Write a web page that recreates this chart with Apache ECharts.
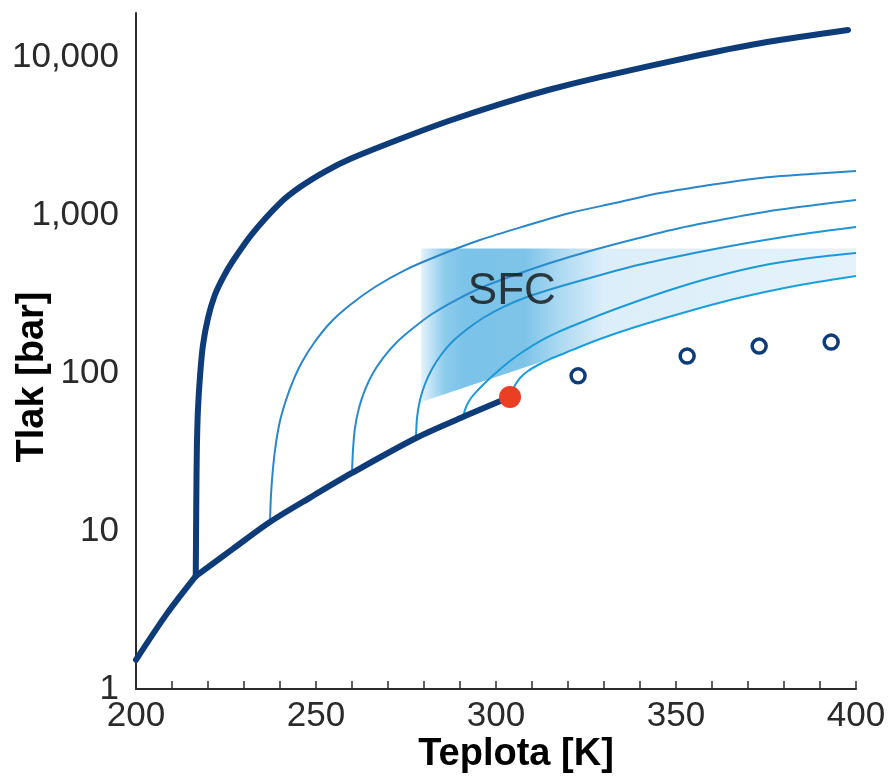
<!DOCTYPE html>
<html>
<head>
<meta charset="utf-8">
<script src="https://cdn.jsdelivr.net/npm/echarts@6/dist/echarts.min.js"></script>
<style>
html,body{margin:0;padding:0;background:#fff;}
#chart{width:890px;height:780px;}
</style>
</head>
<body>
<div id="chart"></div>
<script>
// ---- Data (temperature in K, pressure in bar) ----
const xTicks = [200, 250, 300, 350, 400];
const yTickLabels = ['1', '10', '100', '1,000', '10,000'];

const sublimation = [[200, 1.53], [208.6, 3.0], [216.6, 5.18]];
const vaporCurve = [[216.6, 5.18], [226.9, 7.7], [237.2, 11.4], [248.6, 16.4], [260.0, 23.3], [277.8, 38.8], [290.8, 52.7], [303.9, 70.5]];
const meltCurve = [[216.6, 5.18], [216.75, 15.7], [216.9, 32.6], [217.2, 58], [217.8, 97], [218.6, 150], [220.0, 223],
  [221.9, 312], [224.4, 411], [226.9, 512], [232.2, 758], [240.0, 1191], [245.56, 1504], [252.5, 1885], [259.44, 2262],
  [273.33, 3027], [287.22, 3964], [301.11, 5040], [315.0, 6229], [328.89, 7470], [356.67, 10295], [375.28, 12440],
  [397.78, 14823]];

const iso1 = [[237.22, 11.4], [237.5, 16.9], [238.06, 25.0], [238.89, 36.1], [240.0, 49.7], [241.67, 67.5], [243.61, 89.0],
  [246.11, 117.4], [249.44, 154.9], [253.89, 207.3], [259.44, 269.4], [266.39, 350.2], [274.72, 448.6], [284.44, 558.3],
  [295.56, 694.7], [308.06, 851.9], [320.56, 1030], [333.06, 1191], [345.56, 1378], [359.44, 1548], [373.33, 1715],
  [387.22, 1817], [400, 1899]];
const iso2 = [[260.0, 23.3], [260.28, 32.6], [260.83, 44.9], [261.94, 60.0], [263.61, 78.1], [265.83, 100], [268.61, 124.4],
  [272.22, 154.9], [276.67, 189.9], [282.22, 236.3], [288.89, 289.7], [296.39, 350.2], [305.28, 417.3], [315.0, 496.8],
  [326.11, 591.9], [338.61, 705.0], [351.11, 827.5], [363.61, 943.4], [376.11, 1060], [388.61, 1157], [400, 1244]];
const iso3 = [[277.78, 38.8], [278.06, 51.9], [278.89, 67.5], [280.28, 85.2], [282.22, 106.0], [284.72, 130.0],
  [287.78, 157.1], [291.67, 187.2], [296.39, 222.9], [301.94, 261.6], [308.61, 302.7], [316.39, 345.1], [326.11, 399.4],
  [337.22, 468.8], [349.72, 542.2], [362.22, 618.1], [374.72, 694.7], [387.22, 769.3], [400, 839.7]];
const iso4 = [[290.83, 52.7], [291.67, 60.9], [293.06, 69.5], [295.0, 78.1], [297.5, 89.0], [300.56, 102.9], [303.89, 119.1],
  [307.78, 137.8], [312.22, 159.4], [317.22, 181.7], [323.33, 207.3], [330.28, 239.7], [338.61, 281.4], [348.33, 335.2],
  [359.44, 399.4], [373.33, 475.7], [387.22, 534.3], [400, 575]];
const iso5 = [[303.89, 70.5], [305.0, 81.5], [306.67, 93.0], [308.89, 102.9], [311.67, 112.4], [315.0, 122.6], [319.17, 133.8],
  [323.89, 148.3], [328.89, 164.1], [334.44, 181.7], [341.39, 204.2], [348.89, 229.5], [356.67, 257.9], [365.0, 289.7],
  [374.72, 325.6], [384.44, 360.6], [392.78, 387.8], [400, 411.1]];

const criticalPoint = [[303.9, 70.5]];
const openPoints = [[322.8, 96], [353.1, 128], [373.1, 148], [393.1, 157]];

const sfcTopP = 615;
const sfcLeft = [279.2, 65.5];
const sfcJoinT = 315.0;
const sfcRightT = 400;
const sfcLabel = [[304.4, 326]];

// ---- Styles ----
const FONT = 'Liberation Sans, Arial, Helvetica, sans-serif';
const NAVY = '#0d3c78';
const isoColors = ['#2a86c9', '#2a8bcc', '#2293d2', '#1c9ad7', '#19a0db'];

function fmtLog(v) {
  const e = Math.log10(v);
  if (Math.abs(e - Math.round(e)) > 1e-6) return '';
  const k = Math.round(e);
  return yTickLabels[k] !== undefined ? yTickLabels[k] : '';
}

// SFC polygon vertices (data space)
const sfcPoly = [sfcLeft]
  .concat(iso5.filter(p => p[0] >= sfcJoinT))
  .concat([[sfcRightT, sfcTopP], [sfcLeft[0], sfcTopP]]);

const chart = echarts.init(document.getElementById('chart'), null, {renderer: 'canvas'});

const thickLine = (name, data) => ({
  name, type: 'line', data, smooth: 0.3, showSymbol: false, symbol: 'none',
  lineStyle: {color: NAVY, width: 6, cap: 'round', join: 'round'}, z: 5, silent: true, animation: false
});
const isoLine = (name, data, color) => ({
  name, type: 'line', data, smooth: 0.3, showSymbol: false, symbol: 'none',
  lineStyle: {color, width: 2}, z: 4, silent: true, animation: false
});

const option = {
  animation: false,
  backgroundColor: '#ffffff',
  grid: {left: 136, right: 34, top: 13, bottom: 91, containLabel: false, outerBoundsMode: 'none'},
  xAxis: {
    type: 'value', min: xTicks[0], max: xTicks[xTicks.length - 1], interval: 50,
    axisLine: {show: true, lineStyle: {color: '#2b2b2b', width: 2}},
    axisTick: {show: true, inside: true, length: 8, lineStyle: {color: '#2b2b2b', width: 1.5}},
    minorTick: {show: true, splitNumber: 5, length: 8, lineStyle: {color: '#2b2b2b', width: 1.5}},
    splitLine: {show: false},
    axisLabel: {fontSize: 35, color: '#2a2a2a', fontFamily: FONT, margin: 10}
  },
  yAxis: {
    type: 'log', logBase: 10, min: 1, max: 19000,
    axisLine: {show: true, lineStyle: {color: '#2b2b2b', width: 2}},
    axisTick: {show: false},
    splitLine: {show: false},
    minorTick: {show: false},
    axisLabel: {fontSize: 35, color: '#2a2a2a', fontFamily: FONT, margin: 17, formatter: fmtLog, showMaxLabel: false}
  },
  graphic: [
    {type: 'text', x: 516, y: 755, z: 10,
      style: {text: 'Teplota [K]', font: 'bold 38px ' + FONT, fill: '#000', align: 'center', verticalAlign: 'middle'}},
    {type: 'text', x: 33, y: 377, rotation: Math.PI / 2, z: 10,
      style: {text: 'Tlak [bar]', font: 'bold 38px ' + FONT, fill: '#000', align: 'center', verticalAlign: 'middle'}}
  ],
  series: [
    {
      name: 'SFC region', type: 'custom', silent: true, z: 1, animation: false,
      data: [0],
      renderItem: function (params, api) {
        const pts = sfcPoly.map(p => api.coord(p));
        return {
          type: 'polygon',
          shape: {points: pts},
          style: {
            fill: new echarts.graphic.LinearGradient(0, 0, 1, 0, [
              {offset: 0.0, color: '#e4f2fb'},
              {offset: 0.055, color: '#8ccbed'},
              {offset: 0.1, color: '#7cc3e9'},
              {offset: 0.24, color: '#7ec4e9'},
              {offset: 0.31, color: '#a8d7f1'},
              {offset: 0.42, color: '#dceef9'},
              {offset: 1.0, color: '#e5f2fb'}
            ])
          }
        };
      }
    },
    isoLine('iso1', iso1, isoColors[0]),
    isoLine('iso2', iso2, isoColors[1]),
    isoLine('iso3', iso3, isoColors[2]),
    isoLine('iso4', iso4, isoColors[3]),
    isoLine('iso5', iso5, isoColors[4]),
    thickLine('sublimation', sublimation),
    thickLine('vapor', vaporCurve),
    thickLine('melting', meltCurve),
    {
      name: 'critical', type: 'scatter', data: criticalPoint, symbol: 'circle', symbolSize: 22,
      itemStyle: {color: '#ec3d25', opacity: 1}, z: 8, silent: true
    },
    {
      name: 'points', type: 'scatter', data: openPoints, symbol: 'circle', symbolSize: 14,
      itemStyle: {color: '#ffffff', borderColor: NAVY, borderWidth: 3.5, opacity: 1}, z: 8, silent: true
    },
    {
      name: 'SFC', type: 'scatter', data: sfcLabel, symbolSize: 0, z: 9, silent: true,
      label: {show: true, position: 'inside', formatter: 'SFC', fontSize: 44, color: '#111', fontFamily: FONT}
    }
  ]
};
chart.setOption(option);
</script>
</body>
</html>
